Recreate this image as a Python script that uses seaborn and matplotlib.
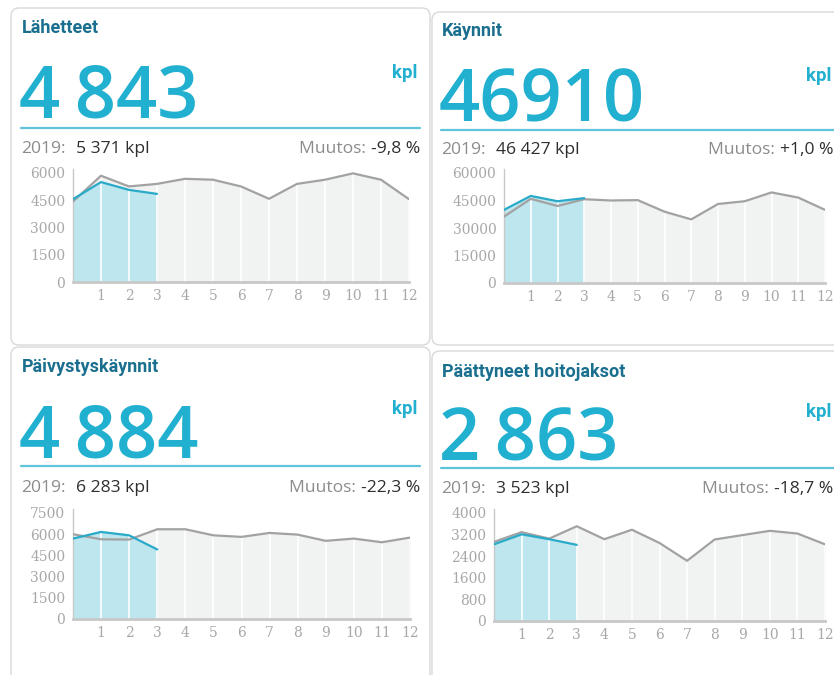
import matplotlib
matplotlib.use("Agg")
import matplotlib.pyplot as plt
import seaborn as sns
from matplotlib.patches import FancyBboxPatch
from matplotlib.lines import Line2D

# ---- data ----
titles = ["Lähetteet", "Käynnit", "Päivystyskäynnit", "Päättyneet hoitojaksot"]
big_values = ["4\u2009843", "46910", "4\u2009884", "2\u2009863"]
prev_values = ["5 371 kpl", "46 427 kpl", "6 283 kpl", "3 523 kpl"]
changes = ["-9,8 %", "+1,0 %", "-22,3 %", "-18,7 %"]

months = list(range(13))
month_labels = [str(m) for m in range(1, 13)]

lahetteet_2019 = [4430, 5850, 5260, 5400, 5680, 5630, 5260, 4580, 5400, 5630, 5980, 5630, 4560]
lahetteet_2020 = [4560, 5500, 5070, 4850]
kaynnit_2019 = [36200, 45900, 42000, 45700, 45000, 45200, 38900, 34700, 43100, 44600, 49400, 46600, 39900]
kaynnit_2020 = [39900, 47500, 44600, 46300]
paivystys_2019 = [6000, 5640, 5620, 6350, 6350, 5920, 5810, 6090, 5970, 5530, 5690, 5430, 5760]
paivystys_2020 = [5690, 6160, 5920, 4920]
hoitojaksot_2019 = [2930, 3290, 3050, 3510, 3030, 3380, 2890, 2230, 3020, 3180, 3340, 3240, 2840]
hoitojaksot_2020 = [2840, 3210, 3030, 2820]

series_2019 = [lahetteet_2019, kaynnit_2019, paivystys_2019, hoitojaksot_2019]
series_2020 = [lahetteet_2020, kaynnit_2020, paivystys_2020, hoitojaksot_2020]
y_ticks = [
    [0, 1500, 3000, 4500, 6000],
    [0, 15000, 30000, 45000, 60000],
    [0, 1500, 3000, 4500, 6000, 7500],
    [0, 800, 1600, 2400, 3200, 4000],
]

# ---- layout in pixels (x from left, y from top) ----
W, H = 834, 675
cards = [(11, 8, 430, 345), (432, 12, 845, 345), (11, 347, 430, 700), (432, 351, 845, 700)]
heads = [
    dict(x=21, xr=420, kx=417, rx=420, title=33, num=117, kpl=73, rule=128, sub=149),
    dict(x=441, xr=833, kx=831, rx=840, title=36, num=122, kpl=76, rule=130, sub=150),
    dict(x=21, xr=420, kx=417, rx=420, title=372, num=457, kpl=409, rule=466, sub=488),
    dict(x=441, xr=833, kx=831, rx=840, title=377, num=460, kpl=412, rule=468, sub=489),
]
# chart: x of value 0, x of value 12, y of baseline, y of top tick
charts = [(73, 409, 282, 173), (504, 825, 283, 173), (73, 410, 619, 513), (494, 825, 621, 513)]

GRAY_FILL = "#f1f2f2"
BLUE_FILL = "#bde6ee"
GRAY_LINE = "#a2a2a2"
BLUE_LINE = "#2aaac9"
TEAL = "#1a6f8f"
CYAN = "#22b0d0"


def fx(x):
    return x / W


def fy(y):
    return 1 - y / H


sns.set_style("white")
plt.rcParams["font.family"] = ["Open Sans", "DejaVu Sans"]

fig = plt.figure(figsize=(W / 100, H / 100), dpi=100)

for i in range(4):
    # card frame
    x0, y0, x1, y1 = cards[i]
    frame = FancyBboxPatch((x0 / 100, (H - y1) / 100), (x1 - x0) / 100, (y1 - y0) / 100,
                           boxstyle="round,pad=0,rounding_size=0.08",
                           transform=fig.dpi_scale_trans, facecolor="white",
                           edgecolor="#d9d9d9", lw=1, zorder=0)
    fig.add_artist(frame)

    h = heads[i]
    fig.text(fx(h["x"] + 1), fy(h["title"]), titles[i], family="Roboto", weight="bold",
             fontsize=13, color=TEAL, va="baseline")
    fig.text(fx(h["x"] - 2), fy(h["num"]), big_values[i], fontsize=52, weight=600,
             color=CYAN, va="baseline")
    fig.text(fx(h["kx"]), fy(h["kpl"]), "kpl", family="Roboto", weight="bold",
             fontsize=13.5, color=CYAN, ha="right", va="center")
    fig.add_artist(Line2D([fx(h["x"]), fx(h["rx"])], [fy(h["rule"]), fy(h["rule"])],
                          color="#5fc4da", lw=1.6))
    fig.text(fx(h["x"]), fy(h["sub"]), "2019:", fontsize=12.6, color="#8c8c8c", va="center")
    fig.text(fx(h["x"] + 55), fy(h["sub"]), prev_values[i], fontsize=12.6, color="#2e2e2e",
             va="center")
    val = fig.text(fx(h["xr"]), fy(h["sub"]), changes[i], fontsize=12.6, color="#2e2e2e",
                   ha="right", va="center")

    # chart
    cx0, cx1, cyb, cyt = charts[i]
    top = y_ticks[i][-1]
    ymax = top * 1.04
    hpx = (cyb - cyt) * ymax / top
    ax = fig.add_axes([fx(cx0), fy(cyb), (cx1 - cx0) / W, hpx / H])
    ax.set_facecolor("none")

    ax.fill_between(months, series_2019[i], color=GRAY_FILL, lw=0, zorder=1)
    ax.fill_between(months[:len(series_2020[i])], series_2020[i], color=BLUE_FILL, lw=0, zorder=1.5)
    for m in months[1:]:
        ax.axvline(m, color="white", lw=1.2, zorder=2)
    sns.lineplot(x=months, y=series_2019[i], ax=ax, color=GRAY_LINE, lw=1.6, zorder=3)
    sns.lineplot(x=months[:len(series_2020[i])], y=series_2020[i], ax=ax, color=BLUE_LINE,
                 lw=1.6, zorder=4)

    ax.annotate("Muutos: ", xy=(0, 0.5), xycoords=val, ha="right", va="center",
                fontsize=12.6, color="#8c8c8c", annotation_clip=False)

    ax.set_xlim(0, 12)
    ax.set_ylim(0, ymax)
    ax.set_xticks(range(1, 13))
    ax.set_xticklabels(month_labels)
    ax.set_yticks(y_ticks[i])
    ax.set_yticklabels([str(t) for t in y_ticks[i]])
    ax.set_xlabel("")
    ax.set_ylabel("")
    for lab in ax.get_xticklabels() + ax.get_yticklabels():
        lab.set_family("DejaVu Serif")
    ax.tick_params(axis="x", length=0, pad=5, labelsize=10, labelcolor="#a8a8a8")
    ax.tick_params(axis="y", length=3.5, width=1, color="#c8c8c8", pad=2,
                   labelsize=10, labelcolor="#a8a8a8")
    sns.despine(ax=ax)
    ax.spines["left"].set_color("#c8c8c8")
    ax.spines["left"].set_linewidth(1)
    ax.spines["bottom"].set_color("#c8c8c8")
    ax.spines["bottom"].set_linewidth(2)

fig.savefig("out.png", dpi=100, facecolor="white")
